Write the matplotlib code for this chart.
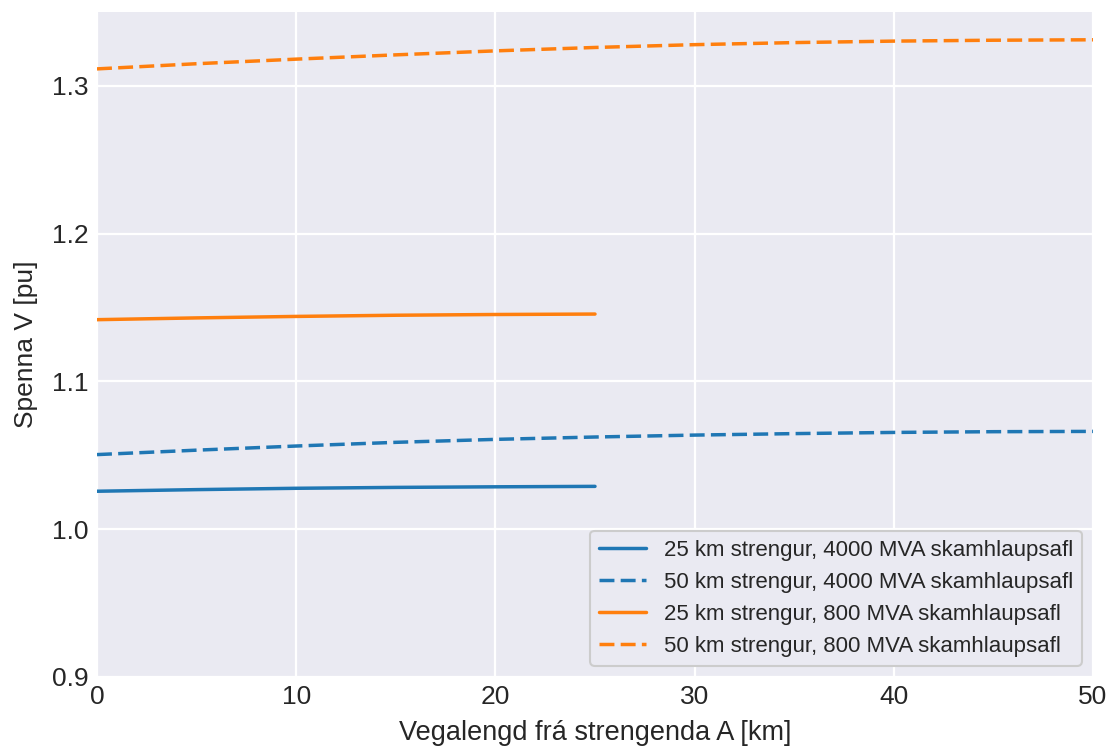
import numpy as np
import matplotlib.pyplot as plt

plt.style.use('seaborn-v0_8-darkgrid')
plt.rcParams['font.family'] = ['Liberation Sans', 'DejaVu Sans']

# Gögn lesin af myndinni
x_25 = [0, 5, 10, 15, 20, 25]
x_50 = [0, 5, 10, 15, 20, 25, 30, 35, 40, 45, 50]

v_25_4000 = [1.0257, 1.0268, 1.0277, 1.0283, 1.0287, 1.0290]
v_50_4000 = [1.0505, 1.0535, 1.0563, 1.0588, 1.0608, 1.0624, 1.0637, 1.0647, 1.0655, 1.0660, 1.0662]
v_25_800 = [1.1418, 1.1430, 1.1440, 1.1448, 1.1453, 1.1456]
v_50_800 = [1.3115, 1.3150, 1.3181, 1.3210, 1.3237, 1.3260, 1.3279, 1.3293, 1.3303, 1.3309, 1.3312]

labels = [
    '25 km strengur, 4000 MVA skamhlaupsafl',
    '50 km strengur, 4000 MVA skamhlaupsafl',
    '25 km strengur, 800 MVA skamhlaupsafl',
    '50 km strengur, 800 MVA skamhlaupsafl',
]

fig = plt.figure(figsize=(11.1, 7.46), dpi=100)
ax = fig.add_axes([97 / 1110, 69 / 746, 996 / 1110, 665 / 746])

lw = 2.5
dash = (4.3, 1.8)
ax.plot(x_25, v_25_4000, '-', color='#1f77b4', lw=lw, label=labels[0])
ax.plot(x_50, v_50_4000, '--', color='#1f77b4', lw=lw, dashes=dash, label=labels[1])
ax.plot(x_25, v_25_800, '-', color='#ff7f0e', lw=lw, label=labels[2])
ax.plot(x_50, v_50_800, '--', color='#ff7f0e', lw=lw, dashes=dash, label=labels[3])

ax.set_xlim(0, 50)
ax.set_ylim(0.9, 1.35)
ax.set_yticks([0.9, 1.0, 1.1, 1.2, 1.3])
ax.grid(True, color='white', lw=1.6)
ax.tick_params(labelsize=19, pad=6)
ax.set_xlabel('Vegalengd frá strengenda A [km]', fontsize=19.5, labelpad=8)
ax.set_ylabel('Spenna V [pu]', fontsize=19, labelpad=10)

leg = ax.legend(loc='lower right', fontsize=16, frameon=True, handlelength=2.1,
                facecolor='#EAEAF2', edgecolor='#CCCCCC', framealpha=1)
leg.get_frame().set_linewidth(1.5)

fig.savefig('out.png', dpi=100)
